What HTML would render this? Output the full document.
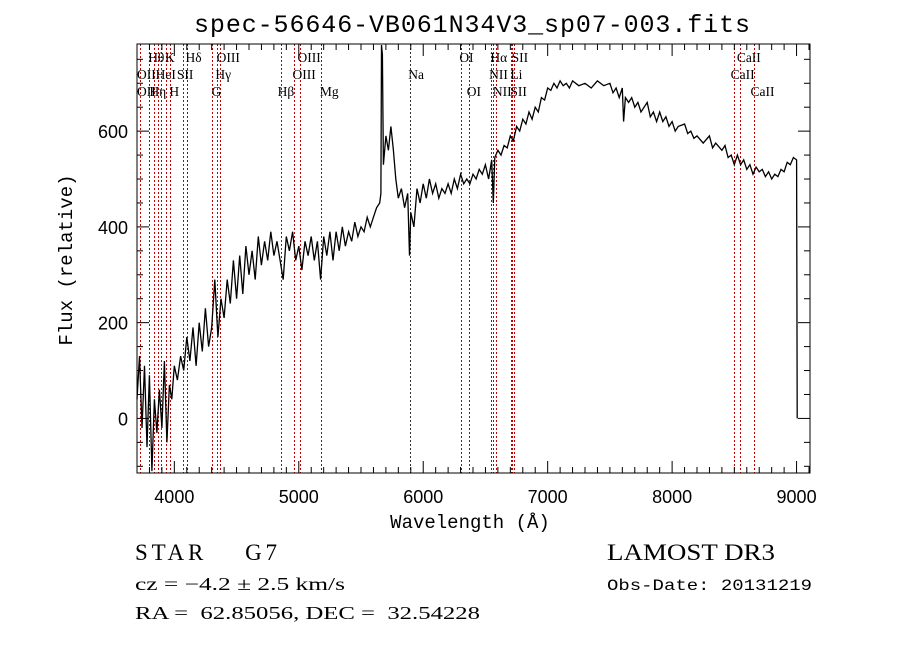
<!DOCTYPE html>
<html><head><meta charset="utf-8"><style>
html,body{margin:0;padding:0;background:#fff;}
svg{display:block;}
</style></head><body>
<svg id="chart" width="900" height="649" xmlns="http://www.w3.org/2000/svg" font-family="Liberation Sans, sans-serif">
<rect x="0" y="0" width="900" height="649" fill="#fff"/>
<text x="472" y="32" font-family="Liberation Mono, monospace" font-size="25" text-anchor="middle" textLength="556">spec-56646-VB061N34V3_sp07-003.fits</text>
<g id="lines"></g>
<g id="ticks"></g>
<path id="spec" fill="none" stroke="#000" stroke-width="1.3"/>
<rect x="137" y="44" width="673" height="429" fill="none" stroke="#000" stroke-width="1"/>
<text transform="translate(72,260) rotate(-90)" font-family="Liberation Mono, monospace" font-size="19" text-anchor="middle">Flux (relative)</text>
<text x="470" y="528" font-family="Liberation Mono, monospace" font-size="19" text-anchor="middle">Wavelength (Å)</text>
<text x="135" y="560" font-family="Liberation Serif, serif" font-size="23" xml:space="preserve" textLength="142" lengthAdjust="spacing">STAR    G7</text>
<text x="135" y="590" font-family="Liberation Serif, serif" font-size="18" textLength="210" lengthAdjust="spacingAndGlyphs">cz = −4.2 ± 2.5 km/s</text>
<text x="135" y="619" font-family="Liberation Serif, serif" font-size="18" xml:space="preserve" textLength="345" lengthAdjust="spacingAndGlyphs">RA =  62.85056, DEC =  32.54228</text>
<text x="607" y="560" font-family="Liberation Serif, serif" font-size="23" textLength="168" lengthAdjust="spacingAndGlyphs">LAMOST DR3</text>
<text x="607" y="590" font-family="Liberation Mono, monospace" font-size="16" textLength="205" lengthAdjust="spacingAndGlyphs">Obs-Date: 20131219</text>
</svg>
<script>
const wavelengths=[3700,3720,3740,3760,3780,3800,3820,3840,3860,3880,3900,3920,3940,3960,3980,4000,4025,4050,4075,4100,4125,4150,4175,4200,4225,4250,4275,4300,4325,4350,4375,4400,4425,4450,4475,4500,4525,4550,4575,4600,4625,4650,4675,4700,4725,4750,4775,4800,4825,4850,4875,4900,4925,4950,4975,5000,5025,5050,5075,5100,5125,5150,5175,5200,5225,5250,5275,5300,5325,5350,5375,5400,5425,5450,5475,5500,5525,5550,5575,5600,5625,5650,5660,5665,5672,5680,5700,5720,5740,5760,5780,5800,5825,5850,5875,5890,5900,5925,5950,5975,6000,6025,6050,6075,6100,6125,6150,6175,6200,6225,6250,6275,6300,6325,6350,6375,6400,6425,6450,6475,6500,6525,6550,6563,6575,6600,6625,6650,6675,6700,6725,6750,6775,6800,6825,6850,6875,6900,6925,6950,6975,7000,7025,7050,7075,7100,7125,7150,7175,7200,7250,7300,7350,7400,7450,7500,7525,7550,7575,7600,7610,7625,7650,7675,7700,7725,7750,7775,7800,7825,7850,7875,7900,7925,7950,7975,8000,8025,8050,8100,8125,8150,8175,8200,8250,8300,8325,8350,8400,8425,8450,8475,8500,8525,8550,8575,8600,8625,8650,8675,8700,8725,8750,8775,8800,8825,8850,8875,8900,8925,8950,8975,9000,9005];
const flux=[40,130,-20,110,-60,90,-110,40,-30,60,-20,120,-50,70,40,110,80,130,100,170,120,190,110,200,140,230,150,190,290,170,250,210,290,240,330,250,340,260,360,300,350,290,380,320,370,330,390,340,370,330,290,380,350,390,330,360,310,370,340,380,330,370,290,380,340,390,330,390,350,400,360,390,370,410,380,400,390,420,400,420,440,450,470,780,760,530,590,560,610,560,500,460,480,440,470,340,430,400,480,450,490,460,500,470,490,460,480,470,490,470,500,480,510,490,500,490,510,500,520,510,530,500,540,450,545,560,550,570,565,590,580,610,600,625,615,640,625,650,640,670,665,690,685,700,690,705,695,700,690,705,695,700,690,705,695,700,680,690,670,690,620,670,660,670,650,660,640,650,660,630,640,620,640,620,630,610,620,600,610,615,595,600,585,590,575,590,565,575,560,570,545,550,530,550,530,540,520,530,510,525,515,520,505,515,500,510,505,520,515,535,530,545,540,0];
const xTicks=[4000,5000,6000,7000,8000,9000];
const yTicks=[0,200,400,600];
const lineWaves=[3727,3798,3835,3869,3889,3934,3968,4072,4102,4304,4340,4363,4861,4959,5007,5175,5893,6300,6364,6548,6563,6583,6708,6716,6731,8498,8542,8662];
const lineLabels=[["Hθ",3790,0],["K",3925,0],["Hδ",4090,0],["OIII",4340,0],["OIII",4990,0],["OI",6290,0],["Hα",6540,0],["SII",6710,0],["CaII",8520,0],
["OII",3700,1],["HeI",3850,1],["SII",4020,1],["Hγ",4330,1],["OIII",4950,1],["Na",5880,1],["NII",6530,1],["Li",6700,1],["CaII",8470,1],
["OII",3700,2],["Hη",3800,2],["H",3960,2],["G",4300,2],["Hβ",4830,2],["Mg",5170,2],["OI",6350,2],["NII",6560,2],["SII",6700,2],["CaII",8630,2]];
const X0=137,X1=810,W0=3700,W1=9108,Y0=473,Y1=44,F0=-114,F1=782;
function xs(w){return X0+(w-W0)*(X1-X0)/(W1-W0);}
function ys(f){return Y0-(f-F0)*(Y0-Y1)/(F1-F0);}
const NS='http://www.w3.org/2000/svg';
let d='';
for(let i=0;i<wavelengths.length;i++){d+=(i?'L':'M')+xs(wavelengths[i]).toFixed(1)+' '+ys(flux[i]).toFixed(1);}
document.getElementById('spec').setAttribute('d',d);
const lg=document.getElementById('lines');
lineWaves.forEach(w=>{
 const l=document.createElementNS(NS,'line');
 
 
 const x=Math.round(xs(w))+0.5;
 l.setAttribute('x1',x);l.setAttribute('x2',x);l.setAttribute('y1',Y1);l.setAttribute('y2',Y0);
 const dark=(w===5175||w===5893||w===4102);
 l.setAttribute('stroke',dark?'#333':'#c00000');l.setAttribute('stroke-width','1');l.setAttribute('stroke-dasharray','2,2');
 lg.appendChild(l);
});
lineLabels.forEach(a=>{
 const t=document.createElementNS(NS,'text');
 
 
 t.setAttribute('x',xs(a[1]));t.setAttribute('y',62+a[2]*17);
 t.setAttribute('font-family','Liberation Serif, serif');t.setAttribute('font-size','13.5');
 t.textContent=a[0];lg.appendChild(t);
});
const tg=document.getElementById('ticks');
function addLine(x1,y1,x2,y2){const l=document.createElementNS(NS,'line');
 
 
 l.setAttribute('x1',x1);l.setAttribute('y1',y1);l.setAttribute('x2',x2);l.setAttribute('y2',y2);l.setAttribute('stroke','#000');tg.appendChild(l);}
for(let w=3800;w<=9100;w+=100){const x=xs(w);const major=xTicks.includes(w);const L=major?12:6;addLine(x,Y0,x,Y0-L);addLine(x,Y1,x,Y1+L);}
for(let f=-100;f<=750;f+=50){const y=ys(f);const major=yTicks.includes(f);const L=major?12:6;addLine(X0,y,X0+L,y);addLine(X1,y,X1-L,y);}
xTicks.forEach(w=>{const t=document.createElementNS(NS,'text');
 
 
 t.setAttribute('x',xs(w));t.setAttribute('y',503);t.setAttribute('text-anchor','middle');t.setAttribute('font-size','18');t.textContent=w;tg.appendChild(t);});
yTicks.forEach(f=>{const t=document.createElementNS(NS,'text');
 
 
 t.setAttribute('x',128);t.setAttribute('y',ys(f)+7);t.setAttribute('text-anchor','end');t.setAttribute('font-size','18');t.textContent=f;tg.appendChild(t);});
</script>
</body></html>
